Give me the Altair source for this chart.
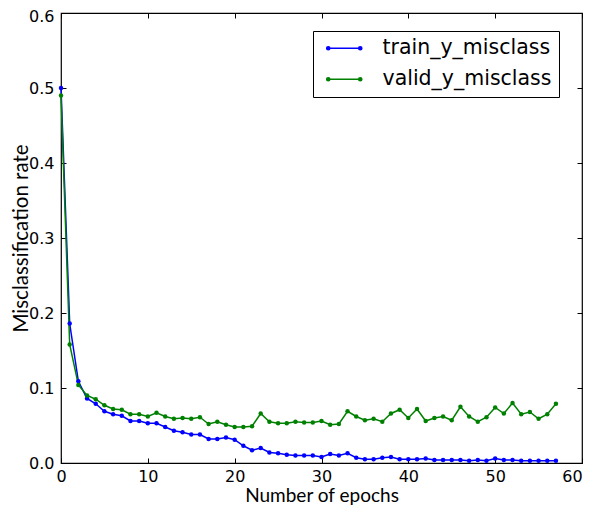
import altair as alt
import pandas as pd

epochs = list(range(58))
train_y_misclass = [
    0.500, 0.186, 0.109, 0.086, 0.079, 0.069, 0.065, 0.063, 0.056, 0.056,
    0.053, 0.053, 0.048, 0.043, 0.041, 0.038, 0.038, 0.032, 0.032, 0.034,
    0.031, 0.023, 0.017, 0.020, 0.014, 0.013, 0.011, 0.010, 0.010, 0.010,
    0.008, 0.012, 0.010, 0.013, 0.007, 0.005, 0.005, 0.007, 0.008, 0.005,
    0.005, 0.005, 0.006, 0.004, 0.004, 0.004, 0.004, 0.003, 0.004, 0.003,
    0.006, 0.004, 0.004, 0.003, 0.003, 0.003, 0.003, 0.003,
]
valid_y_misclass = [
    0.490, 0.158, 0.104, 0.090, 0.085, 0.077, 0.072, 0.071, 0.065, 0.065,
    0.062, 0.067, 0.062, 0.059, 0.060, 0.059, 0.061, 0.052, 0.055, 0.051,
    0.048, 0.048, 0.049, 0.066, 0.055, 0.053, 0.053, 0.055, 0.054, 0.054,
    0.056, 0.051, 0.052, 0.069, 0.062, 0.057, 0.059, 0.055, 0.066, 0.071,
    0.060, 0.072, 0.056, 0.060, 0.062, 0.057, 0.075, 0.062, 0.055, 0.061,
    0.074, 0.066, 0.080, 0.065, 0.068, 0.059, 0.065, 0.079,
]
series_names = ["train_y_misclass", "valid_y_misclass"]
series_colors = ["#0000ff", "#008000"]

df = pd.DataFrame({
    "epoch": epochs * 2,
    "rate": train_y_misclass + valid_y_misclass,
    "series": [series_names[0]] * len(epochs) + [series_names[1]] * len(epochs),
})

x_scale = alt.Scale(domain=[0, 60], nice=False, zero=False)
y_scale = alt.Scale(domain=[0, 0.6], nice=False)
x_vals = [0, 10, 20, 30, 40, 50, 60]
y_vals = [0.0, 0.1, 0.2, 0.3, 0.4, 0.5, 0.6]

TICK = 5
# line with a dot at each end, in unit coordinates (scaled by sqrt(size)/2)
legend_symbol = ("M-2,0L2,0"
                 "M-2.2,0A0.2,0.2,0,1,0,-1.8,0A0.2,0.2,0,1,0,-2.2,0"
                 "M1.8,0A0.2,0.2,0,1,0,2.2,0A0.2,0.2,0,1,0,1.8,0")

axis_common = dict(
    tickColor="#000000", tickWidth=1,
    labelFont="DejaVu Sans", labelFontSize=16, labelColor="#000000",
    labelFlush=False,
    titleFont="Lato", titleFontWeight="normal",
    titleColor="#000000",
    offset=-TICK, tickSize=TICK, domain=False, grid=False,
)

color = alt.Color(
    "series:N",
    scale=alt.Scale(domain=series_names, range=series_colors),
    legend=alt.Legend(
        title=None,
        orient="none",
        legendX=252,
        legendY=18,
        symbolType=legend_symbol,
        symbolSize=256,
        symbolStrokeWidth=1.5,
        symbolOffset=14,
        labelFontSize=20.5,
        labelFont="DejaVu Sans",
        labelColor="#000000",
        labelOffset=28,
        labelLimit=400,
        rowPadding=10,
        padding=7,
        strokeColor="#000000",
        fillColor="#ffffff",
        cornerRadius=0,
    ),
)

lines = alt.Chart(df).mark_line(
    point=alt.OverlayMarkDef(filled=True, size=20),
    strokeWidth=1.5,
).encode(
    x=alt.X("epoch:Q", scale=x_scale, axis=alt.Axis(
        orient="bottom", values=x_vals, format="d", title="Number of epochs",
        labelPadding=5, titleBaseline="alphabetic", titleY=43, titleFontSize=19,
        labelOffset={"condition": {"test": "datum.value >= 60", "value": -10}, "value": 0},
        **axis_common,
    )),
    y=alt.Y("rate:Q", scale=y_scale, axis=alt.Axis(
        orient="left", values=y_vals, format=".1f", title="Misclassification rate",
        labelPadding=7, titleBaseline="alphabetic", titleX=-39, titleFontSize=20.5,
        labelOffset={"condition": {"test": "datum.value >= 0.6", "value": 3}, "value": 0},
        **axis_common,
    )),
    color=color,
)

ghost = alt.Chart(df).mark_point(opacity=0).encode(
    x=alt.X("epoch:Q", scale=x_scale, axis=alt.Axis(
        orient="top", values=x_vals, labels=False, title=None, **axis_common,
    )),
    y=alt.Y("rate:Q", scale=y_scale, axis=alt.Axis(
        orient="right", values=y_vals, labels=False, title=None, **axis_common,
    )),
)

chart = alt.layer(lines, ghost).resolve_axis(
    x="independent", y="independent"
).properties(
    width=521,
    height=450,
    background="#ffffff",
    autosize=alt.AutoSizeParams(type="none"),
    padding={"left": 53, "top": 5, "right": 1, "bottom": 42},
).configure_view(
    stroke="#000000",
    strokeWidth=1.2,
)

chart.save("out.html", embed_options={"renderer": "svg", "actions": False})
